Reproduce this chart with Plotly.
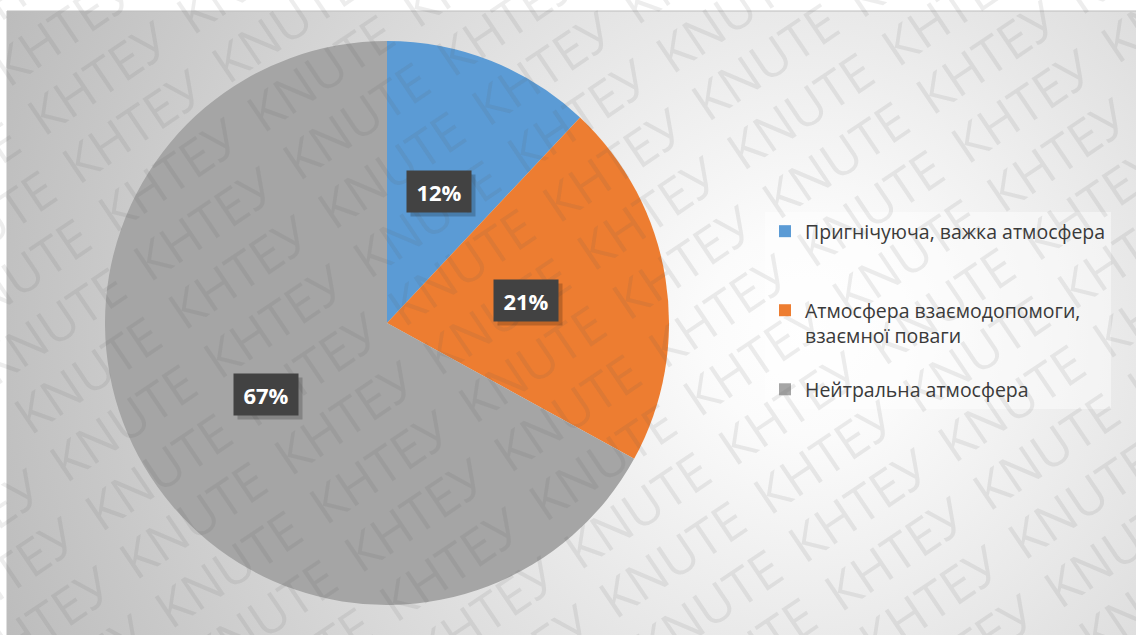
import base64
import math
import plotly.graph_objects as go

# ---- data ----
labels = [
    "Пригнічуюча, важка атмосфера",
    "Атмосфера взаємодопомоги,<br>взаємної поваги",
    "Нейтральна атмосфера",
]
values = [12, 21, 67]
colors = ["#5b9bd5", "#ed7d31", "#a5a5a5"]
# extra blank lines used to space legend entries
legend_pad_lines = [2, 1, 0]
watermark_words = ["КНТЕУ", "KNUTE"]

W, H = 1136, 635

# pie geometry in pixels (centre and radius)
CX, CY, R = 387, 323, 282
dom_x = [(CX - R) / W, (CX + R) / W]
dom_y = [1 - (CY + R) / H, 1 - (CY - R) / H]

legend_names = [lab + "<br> " * n for lab, n in zip(labels, legend_pad_lines)]

fig = go.Figure(
    go.Pie(
        labels=legend_names,
        values=values,
        sort=False,
        direction="clockwise",
        rotation=0,
        marker=dict(colors=colors, line=dict(width=0)),
        textinfo="none",
        hoverinfo="label+percent",
        domain=dict(x=dom_x, y=dom_y),
    )
)

# radial gradient backdrop of the chart area
svg = (
    '<svg xmlns="http://www.w3.org/2000/svg" width="1129" height="624" viewBox="0 0 1129 624">'
    '<defs><radialGradient id="g" gradientUnits="userSpaceOnUse" cx="800" cy="320" r="860">'
    '<stop offset="0" stop-color="#ffffff"/><stop offset="0.12" stop-color="#fbfbfb"/>'
    '<stop offset="1" stop-color="#bcbcbc"/></radialGradient></defs>'
    '<rect width="1129" height="624" fill="url(#g)"/></svg>'
)
src = "data:image/svg+xml;base64," + base64.b64encode(svg.encode()).decode()
fig.add_layout_image(
    dict(
        source=src, xref="paper", yref="paper",
        x=7 / W, y=1 - 11 / H, sizex=1129 / W, sizey=624 / H,
        xanchor="left", yanchor="top", sizing="stretch", layer="below",
    )
)
fig.add_shape(
    type="rect", xref="paper", yref="paper",
    x0=7 / W, x1=1.2, y0=-0.2, y1=1 - 11 / H,
    line=dict(color="#bdbdbd", width=1), layer="below",
)

# diagonal watermark: words laid on tilted rows
ang = 34
ux, uy = math.cos(math.radians(ang)), -math.sin(math.radians(ang))
nx, ny = math.sin(math.radians(ang)), math.cos(math.radians(ang))
GX, GY = 568, 318
row_gap, word_step, row_shift = 60, 183, 185
reach = 820
for k in range(-15, 13):
    d = 77 + k * row_gap
    base = 495 + k * row_shift
    j_lo = math.ceil((-reach - base) / word_step)
    j_hi = math.floor((reach - base) / word_step)
    for j in range(j_lo, j_hi + 1):
        t = base + j * word_step
        px = GX + t * ux + d * nx
        py = GY + t * uy + d * ny
        if -120 < px < W + 120 and -120 < py < H + 120:
            fig.add_annotation(
                x=px / W, y=1 - py / H, xref="paper", yref="paper",
                text=watermark_words[(j + k) % 2], showarrow=False, textangle=-ang,
                font=dict(family="Open Sans", size=51, color="rgba(90,90,90,0.11)"),
                xanchor="center", yanchor="middle",
            )

# percentage labels in dark boxes, placed at half radius on each slice's mid-angle
total = sum(values)
cum = 0
for v in values:
    mid = (cum + v / 2) / total * 2 * math.pi
    cum += v
    lx = CX + 0.5 * R * math.sin(mid)
    ly = CY - 0.5 * R * math.cos(mid)
    pct = f"{round(v / total * 100)}%"
    # soft drop shadow
    fig.add_annotation(
        x=(lx + 4) / W, y=1 - (ly + 4) / H, xref="paper", yref="paper",
        text=" ", showarrow=False, width=60, height=37, borderpad=2,
        bgcolor="rgba(0,0,0,0.2)", xanchor="center", yanchor="middle",
    )
    fig.add_annotation(
        x=lx / W, y=1 - ly / H, xref="paper", yref="paper",
        text=f"<b>{pct}</b>", showarrow=False, width=60, height=37, borderpad=2,
        bgcolor="#424242", xanchor="center", yanchor="middle",
        font=dict(family="Open Sans", size=22, color="#ffffff"),
    )

fig.update_layout(
    width=W, height=H,
    margin=dict(l=0, r=0, t=0, b=0),
    paper_bgcolor="#ffffff",
    plot_bgcolor="rgba(0,0,0,0)",
    showlegend=True,
    legend=dict(
        x=765 / W, y=1 - 212 / H, xanchor="left", yanchor="top",
        valign="top",
        bgcolor="rgba(255,255,255,0.45)",
        font=dict(family="Open Sans", size=19.5, color="#3a3a3a"),
        traceorder="normal",
    ),
)

fig.write_html("out.html")
